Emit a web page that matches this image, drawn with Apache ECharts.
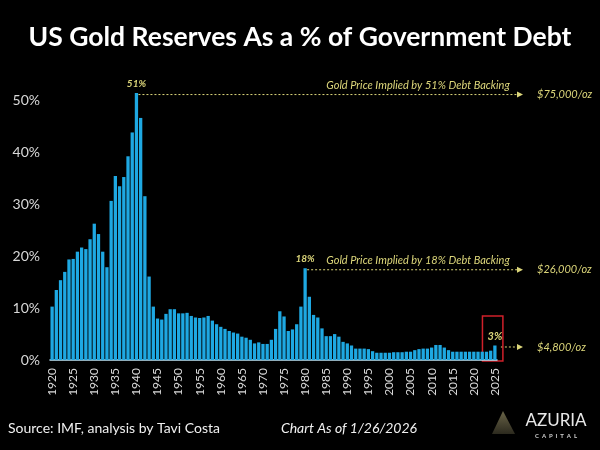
<!DOCTYPE html>
<html>
<head>
<meta charset="utf-8">
<script src="https://cdn.jsdelivr.net/npm/echarts@6/dist/echarts.min.js"></script>
<style>
  html, body { margin: 0; padding: 0; background: #000; }
  #chart { width: 600px; height: 450px; }
</style>
</head>
<body>
<div id="chart"></div>
<script>
// years 1920..2025
var years = [];
for (var y = 1920; y <= 2025; y++) years.push(String(y));

// gold reserves as % of government debt
var reserves = [
  10.3, 13.5, 15.4, 17.0, 19.4, 19.5, 20.9, 21.7, 21.4, 23.3,
  26.3, 24.3, 20.9, 17.9, 30.7, 35.5, 33.5, 35.3, 39.3, 43.9,
  51.5, 46.7, 31.6, 16.1, 10.3, 8.0, 7.8, 8.9, 9.8, 9.8,
  9.0, 9.0, 9.1, 8.5, 8.2, 8.1, 8.2, 8.5, 7.6, 6.9,
  6.4, 6.0, 5.6, 5.3, 5.1, 4.5, 4.3, 3.9, 3.2, 3.4,
  3.1, 3.1, 3.9, 6.0, 9.4, 8.4, 5.6, 5.9, 6.9, 10.3,
  17.7, 12.2, 8.7, 8.2, 6.1, 4.6, 4.6, 5.0, 4.5, 3.5,
  3.2, 2.8, 2.2, 2.2, 2.2, 2.1, 1.7, 1.4, 1.4, 1.4,
  1.4, 1.5, 1.5, 1.5, 1.6, 1.6, 1.9, 2.1, 2.2, 2.2,
  2.4, 2.9, 2.9, 2.4, 1.9, 1.6, 1.6, 1.6, 1.6, 1.6,
  1.6, 1.6, 1.6, 1.6, 1.8, 2.8
];

var yTicks = [0, 10, 20, 30, 40, 50];

// callouts: year, bar label, annotation text, implied price
var callouts = [
  { year: '1940', label: '51%', text: 'Gold Price Implied by 51% Debt Backing', price: '$75,000/oz' },
  { year: '1980', label: '18%', text: 'Gold Price Implied by 18% Debt Backing', price: '$26,000/oz' },
  { year: '2025', label: '3%', text: '', price: '$4,800/oz' }
];

var yellow = '#dcd67a';
var barColor = '#1ea8e2';

var data = reserves.map(function (v, i) {
  var c = callouts.filter(function (k) { return k.year === years[i]; })[0];
  if (!c) return v;
  return {
    value: v,
    label: {
      show: true, position: 'top', distance: 4, formatter: c.label,
      color: yellow, fontFamily: 'Lato', fontStyle: 'italic', fontWeight: 'bold',
      fontSize: c.text ? 10 : 11
    }
  };
});

var chart = echarts.init(document.getElementById('chart'));

var option = {
  backgroundColor: '#000',
  animation: false,
  title: {
    text: 'US Gold Reserves As a % of Government Debt',
    left: 'center', top: 19,
    textStyle: { color: '#fff', fontFamily: 'Lato', fontWeight: 'bold', fontSize: 26.5 }
  },
  grid: { left: 50, right: 103, top: 49, bottom: 90 },
  xAxis: {
    type: 'category',
    data: years,
    axisLine: { lineStyle: { color: '#bfe6f7', width: 1.5 } },
    axisTick: { show: false },
    axisLabel: {
      color: '#d8d8d8', fontFamily: 'Lato', fontSize: 12, rotate: 90, margin: 8,
      interval: function (i, v) { return Number(v) % 5 === 0; }
    }
  },
  yAxis: {
    type: 'value',
    min: 0, max: 60, interval: 10,
    splitLine: { show: false },
    axisLine: { show: false },
    axisTick: { show: false },
    axisLabel: {
      color: '#d8d8d8', fontFamily: 'Lato', fontSize: 14, margin: 10,
      formatter: function (v) { return yTicks.indexOf(v) >= 0 ? v + '%' : ''; }
    }
  },
  series: [{
    type: 'bar',
    data: data,
    barCategoryGap: '22%',
    itemStyle: { color: barColor }
  }]
};
chart.setOption(option);

// annotation layer positioned through the chart's own scales
var arrowEnd = 523;
var priceX = 537;
var g = [];
callouts.forEach(function (c) {
  var v = reserves[years.indexOf(c.year)];
  var p = chart.convertToPixel({ seriesIndex: 0 }, [c.year, v]);
  var lineY = p[1] + 1.5;
  var startX = c.text ? p[0] + 2 : p[0] + 6;
  g.push({
    type: 'line',
    shape: { x1: startX, y1: lineY, x2: arrowEnd - 5, y2: lineY },
    style: { stroke: yellow, lineWidth: 1, lineDash: [2, 2] }
  });
  g.push({
    type: 'polygon',
    shape: { points: [[arrowEnd - 6, lineY - 3], [arrowEnd, lineY], [arrowEnd - 6, lineY + 3]] },
    style: { fill: yellow }
  });
  g.push({
    type: 'text', x: priceX, y: lineY,
    style: {
      text: c.price, fill: yellow, font: 'italic 11px Lato',
      textAlign: 'left', textVerticalAlign: 'middle'
    }
  });
  if (c.text) {
    g.push({
      type: 'text', x: 418, y: lineY - 9,
      style: {
        text: c.text, fill: yellow, font: 'italic 11px Lato',
        textAlign: 'center', textVerticalAlign: 'middle'
      }
    });
  }
});

// red highlight box around the latest bars
var pL = chart.convertToPixel({ seriesIndex: 0 }, ['2023', 8.5]);
var pR = chart.convertToPixel({ seriesIndex: 0 }, ['2025', 0]);
g.push({
  type: 'rect',
  shape: { x: pL[0] - 4, y: pL[1], width: pR[0] + 8 - (pL[0] - 4), height: pR[1] + 1 - pL[1] },
  style: { fill: 'none', stroke: '#d0202a', lineWidth: 1.5 }
});

// footer
g.push({
  type: 'text', x: 8, y: 428,
  style: { text: 'Source: IMF, analysis by Tavi Costa', fill: '#f0f0f0', font: '14px Lato', textVerticalAlign: 'middle' }
});
g.push({
  type: 'text', x: 349, y: 428,
  style: { text: 'Chart As of 1/26/2026', fill: '#f0f0f0', font: 'italic 14px Lato', textAlign: 'center', textVerticalAlign: 'middle' }
});
g.push({
  type: 'polygon',
  shape: { points: [[503, 411], [515, 434], [492, 434]] },
  style: {
    fill: new echarts.graphic.LinearGradient(0, 0, 0, 1, [
      { offset: 0, color: '#6a6448' }, { offset: 1, color: '#2c2a1e' }
    ])
  }
});
g.push({
  type: 'text', x: 556, y: 421,
  style: { text: 'AZURIA', fill: '#e8e8e8', font: '17px Lato', textAlign: 'center', textVerticalAlign: 'middle' }
});
g.push({
  type: 'text', x: 556, y: 436,
  style: { text: 'C  A  P  I  T  A  L', fill: '#cfcfcf', font: 'bold 6px Lato', textAlign: 'center', textVerticalAlign: 'middle' }
});

chart.setOption({ graphic: g });
</script>
</body>
</html>
